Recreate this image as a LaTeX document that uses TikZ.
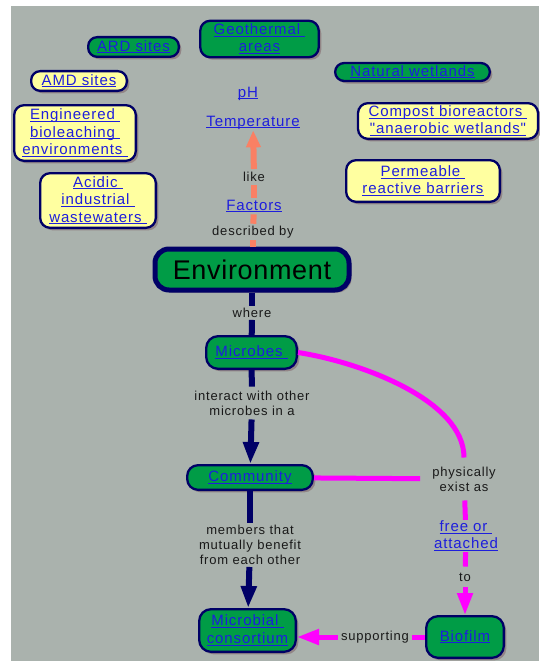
\documentclass[tikz,border=0pt]{standalone}
\usepackage{fontspec}
\setmainfont{Liberation Sans}
\newfontfamily\lkfont[LetterSpace=6]{Liberation Sans}
\newfontfamily\envfont[LetterSpace=2.5]{Liberation Sans}
\usetikzlibrary{arrows.meta,shadows}
\definecolor{bg}{RGB}{170,178,173}
\definecolor{cgreen}{RGB}{0,156,70}
\definecolor{cyellow}{RGB}{255,255,160}
\definecolor{navy}{RGB}{0,0,102}
\definecolor{lblue}{RGB}{30,30,220}
\definecolor{salm}{RGB}{250,128,100}
\definecolor{mgt}{RGB}{255,0,255}
\definecolor{shade}{RGB}{140,122,125}
\newcommand\lk[1]{\underline{\smash{#1}\vphantom{A}}}
\tikzset{
  cbox/.style={draw=navy, line width=2.3pt, rounded corners=10pt, align=center, inner sep=0pt,
    text=lblue, font=\lkfont\fontsize{15}{17.5}\selectfont,
    drop shadow={shadow xshift=2.5pt, shadow yshift=-2.5pt, fill=shade, opacity=0.8}},
  gbox/.style={cbox, fill=cgreen},
  ybox/.style={cbox, fill=cyellow},
  lnk/.style={text=lblue, font=\lkfont\fontsize{15}{17.5}\selectfont, align=center, inner sep=2pt},
  lab/.style={text=black!90, font=\lkfont\fontsize{13}{15}\selectfont, align=center, inner sep=3pt},
  nv/.style={draw=navy, line width=6pt},
  mg/.style={draw=mgt, line width=5pt},
  sl/.style={draw=salm, line width=6pt},
  tipN/.style={-{Triangle[length=22pt,width=15pt]}},
  tipS/.style={-{Triangle[length=17pt,width=14pt]}},
}
\begin{document}
\begin{tikzpicture}[x=1pt,y=-1pt]
\useasboundingbox (0,0) rectangle (539,661);
\fill[white] (0,0) rectangle (539,661);
\fill[bg] (11,6) rectangle (539,661);

% concept nodes
\node[gbox, minimum width=118.5pt, minimum height=36.5pt] (geo) at (259.5,39) {\lk{Geothermal\ }\\\lk{areas}};
\node[gbox, rounded corners=9pt, minimum width=90.7pt, minimum height=19.7pt] (ard) at (133.5,47) {\lk{ARD sites}};
\node[ybox, rounded corners=9pt, minimum width=95.7pt, minimum height=19.7pt] (amd) at (79,81) {\lk{AMD sites}};
\node[gbox, rounded corners=9pt, minimum width=154.7pt, minimum height=18pt] (nat) at (412.5,72) {\lk{Natural wetlands}};
\node[ybox, minimum width=180pt, minimum height=35.7pt] (comp) at (448,121) {\lk{Compost bioreactors\ }\\\lk{"anaerobic wetlands"}};
\node[ybox, minimum width=121.7pt, minimum height=55.7pt] (eng) at (75,133) {\lk{Engineered\ }\\\lk{bioleaching\ }\\\lk{environments\ }};
\node[ybox, minimum width=153.7pt, minimum height=41.7pt] (perm) at (423,181) {\lk{Permeable\ }\\\lk{reactive barriers}};
\node[ybox, minimum width=115.7pt, minimum height=54.7pt] (acid) at (98,200.5) {\lk{Acidic\ }\\\lk{industrial\ }\\\lk{wastewaters\ }};

\node[lnk] (ph) at (248,93) {\lk{pH}};
\node[lnk] (temp) at (253,122) {\lk{Temperature}};
\node[lnk] (factors) at (254,206) {\lk{Factors}};

\node[gbox, line width=5pt, rounded corners=14pt, minimum width=194pt, minimum height=41pt,
  text=black, font=\envfont\fontsize{27}{30}\selectfont] (env) at (252,269.5) {Environment};
\node[gbox, rounded corners=12pt, minimum width=90.7pt, minimum height=32.7pt] (micro) at (251.5,352.5) {\lk{Microbes\ }};
\node[gbox, rounded corners=11pt, minimum width=125.7pt, minimum height=24.7pt] (comm) at (250,477.5) {\lk{Community}};
\node[gbox, rounded corners=12pt, minimum width=96.7pt, minimum height=42.7pt] (cons) at (247.5,630.5) {\lk{Microbial\ }\\\lk{consortium}};
\node[gbox, rounded corners=12pt, minimum width=77.7pt, minimum height=41.7pt] (bio) at (465,637) {\lk{Biofilm}};
\node[lnk, inner sep=1pt] (free) at (466,536) {\lk{free or\ }\\\lk{attached}};

% linking phrases
\node[lab] (like) at (254,177) {like};
\node[lab, inner ysep=2pt] (descby) at (253,232) {described by};
\node[lab, inner ysep=2pt] (where) at (252,313) {where};
\node[lab, inner ysep=4pt] (interact) at (252,403) {interact with other\\microbes in a};
\node[lab, inner ysep=2pt] (members) at (250,545) {members that\\mutually benefit\\from each other};
\node[lab, inner xsep=12pt, inner ysep=9pt] (pea) at (464,479) {physically\\exist as};
\node[lab, inner ysep=6pt] (to) at (465,577) {to};
\node[lab] (supp) at (375,637) {supporting};

% salmon connectors
\draw[sl] (env.north -| descby) -- (descby);
\draw[sl] (descby) -- (factors);
\draw[sl] (factors) -- (like);
\draw[sl, tipS] (like) -- (temp);

% navy connectors
\draw[nv] (env) -- (where);
\draw[nv] (where) -- (micro);
\draw[nv] (micro) -- (interact);
\draw[nv, tipN] (interact) -- (comm);
\draw[nv] (comm) -- (members);
\draw[nv, tipN] (members) -- (cons);

% magenta connectors
\draw[mg] (micro.east) .. controls (360,362) and (464,400) .. (pea.north);
\draw[mg] (comm) -- (pea);
\draw[mg] (pea) -- (free);
\draw[mg] (free) -- (to);
\draw[mg, tipN] (to) -- (bio);
\draw[mg] (bio.west |- supp) -- (supp);
\draw[mg, tipN] (supp) -- (cons.east |- supp);
\end{tikzpicture}
\end{document}
